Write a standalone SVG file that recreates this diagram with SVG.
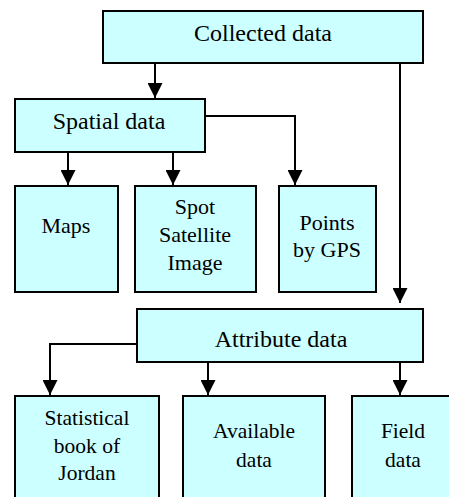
<svg xmlns="http://www.w3.org/2000/svg" width="449" height="497" viewBox="0 0 449 497">
<defs>
<style>
.box{fill:#CCFFFF;stroke:#000;stroke-width:2}
.lbl{font-family:'Liberation Serif','Times New Roman',Times,serif;font-size:22px;fill:#000;text-anchor:middle}
.big{font-size:24px}
.sm{font-size:21.5px}
.con{fill:none;stroke:#000;stroke-width:2}
</style>
<marker id="arr" viewBox="0 0 15 15" refX="15" refY="7.5" markerWidth="15" markerHeight="15" markerUnits="userSpaceOnUse" orient="auto">
<path d="M0,0 L15,7.5 L0,15 Z" fill="#000"/>
</marker>
</defs>
<rect width="449" height="497" fill="#fff"/>
<g id="connectors">
<path class="con" d="M155,63 V98" marker-end="url(#arr)"/>
<path class="con" d="M68,152 V185" marker-end="url(#arr)"/>
<path class="con" d="M173,152 V185" marker-end="url(#arr)"/>
<path class="con" d="M206,116 H295 V185" marker-end="url(#arr)"/>
<path class="con" d="M400,63 V303" marker-end="url(#arr)"/>
<path class="con" d="M137,344 H50 V395" marker-end="url(#arr)"/>
<path class="con" d="M208,362 V395" marker-end="url(#arr)"/>
<path class="con" d="M400,362 V395" marker-end="url(#arr)"/>
</g>
<g id="collected">
<rect class="box" x="103" y="11" width="320" height="52"/>
<text class="lbl big" x="263" y="41">Collected data</text>
</g>
<g id="spatial">
<rect class="box" x="15" y="99" width="190" height="53"/>
<text class="lbl big" x="109" y="129">Spatial data</text>
</g>
<g id="maps">
<rect class="box" x="15" y="186" width="103" height="106"/>
<text class="lbl" x="66" y="233">Maps</text>
</g>
<g id="spot">
<rect class="box" x="135" y="186" width="121" height="106"/>
<text class="lbl" x="195" y="214">Spot</text>
<text class="lbl" x="195" y="242">Satellite</text>
<text class="lbl" x="195" y="270">Image</text>
</g>
<g id="gps">
<rect class="box" x="279" y="186" width="97" height="106"/>
<text class="lbl" x="327" y="230">Points</text>
<text class="lbl" x="327" y="257">by GPS</text>
</g>
<g id="attribute">
<rect class="box" x="137" y="309" width="286" height="53"/>
<text class="lbl big" x="281" y="347">Attribute data</text>
</g>
<g id="statistical">
<rect class="box" x="15" y="396" width="144" height="120"/>
<text class="lbl sm" x="87" y="425">Statistical</text>
<text class="lbl sm" x="87" y="453">book of</text>
<text class="lbl sm" x="87" y="480">Jordan</text>
</g>
<g id="available">
<rect class="box" x="183" y="396" width="142" height="120"/>
<text class="lbl sm" x="254" y="438">Available</text>
<text class="lbl sm" x="254" y="467">data</text>
</g>
<g id="field">
<rect class="box" x="352" y="396" width="120" height="120"/>
<text class="lbl sm" x="403" y="438">Field</text>
<text class="lbl sm" x="403" y="467">data</text>
</g>
</svg>
